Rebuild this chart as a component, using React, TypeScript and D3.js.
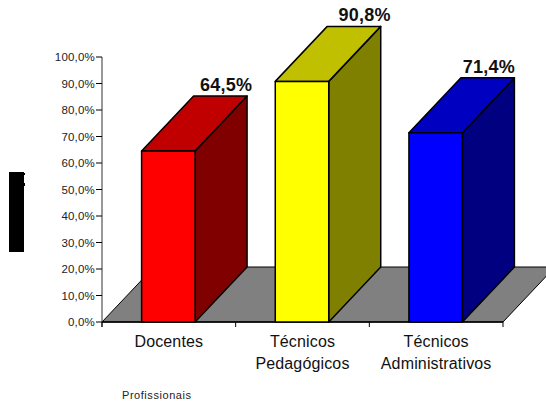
import React from "react";
import * as d3 from "d3";

const categories = ["Docentes", "Técnicos Pedagógicos", "Técnicos Administrativos"];
const values = [64.5, 90.8, 71.4];
const valueLabels = ["64,5%", "90,8%", "71,4%"];
const frontColors = ["#ff0000", "#ffff00", "#0000ff"];
const topColors = ["#c00000", "#c0c000", "#0000c0"];
const sideColors = ["#800000", "#808000", "#000080"];
const yTicks = [0, 10, 20, 30, 40, 50, 60, 70, 80, 90, 100];

const W = 546;
const H = 401;
const FONT = "'Liberation Sans', Arial, sans-serif";
const DEPTH_X = 52;
const DEPTH_Y = 55;
// horizontal shift of each value label from the right edge of its bar
const labelShift = [31, 36, 26.5];

const y = d3.scaleLinear().domain([0, 100]).range([322, 57]);
const x = d3.scaleBand<string>().domain(categories).range([101.5, 502.5]).paddingInner(0.6).paddingOuter(0.3);
const tickX = d3.scaleLinear().domain([0, 3]).range([102, 503]);

const pts = (p: [number, number][]) => p.map((q) => q.join(",")).join(" ");
const fmtTick = (v: number) => `${v.toFixed(1).replace(".", ",")}%`;

export default function App() {
  const base = y(0);
  return (
    <svg
      width={W}
      height={H}
      viewBox={`0 0 ${W} ${H}`}
      style={{ position: "absolute", left: 0, top: 0, fontFamily: FONT }}
    >
      {/* floor of the 3D plot */}
      <polygon
        points={pts([
          [tickX(0), base],
          [tickX(3), base],
          [tickX(3) + DEPTH_X, base - DEPTH_Y],
          [tickX(0) + DEPTH_X, base - DEPTH_Y],
        ])}
        fill="#808080"
        stroke="#000"
        strokeWidth={1}
      />

      {/* value axis */}
      <line x1={102} x2={102} y1={y(100)} y2={327} stroke="#333" strokeWidth={1} />
      {yTicks.map((t) => (
        <g key={t}>
          <line x1={96} x2={102} y1={y(t)} y2={y(t)} stroke="#000" />
          <text x={95} y={y(t) + 4} textAnchor="end" fontSize={11.5} letterSpacing={0.2} fill="#222">
            {fmtTick(t)}
          </text>
        </g>
      ))}

      {/* category axis */}
      <line x1={102} x2={503} y1={base} y2={base} stroke="#000" strokeWidth={1.5} />
      {d3.range(4).map((i) => (
        <line key={i} x1={tickX(i)} x2={tickX(i)} y1={base} y2={327} stroke="#000" />
      ))}

      {/* bars */}
      {categories.map((c, i) => {
        const x0 = x(c)!;
        const x1 = x0 + x.bandwidth();
        const top = y(values[i]);
        return (
          <g key={c} stroke="#000" strokeWidth={1.5} strokeLinejoin="round">
            <polygon
              points={pts([[x1, base], [x1 + DEPTH_X, base - DEPTH_Y], [x1 + DEPTH_X, top - DEPTH_Y], [x1, top]])}
              fill={sideColors[i]}
            />
            <polygon
              points={pts([[x0, top], [x1, top], [x1 + DEPTH_X, top - DEPTH_Y], [x0 + DEPTH_X, top - DEPTH_Y]])}
              fill={topColors[i]}
            />
            <rect x={x0} y={top} width={x1 - x0} height={base - top} fill={frontColors[i]} />
          </g>
        );
      })}

      {/* value labels */}
      {categories.map((c, i) => (
        <text
          key={c}
          x={x(c)! + x.bandwidth() + labelShift[i]}
          y={y(values[i]) - DEPTH_Y - 5}
          textAnchor="middle"
          fontSize={18}
          letterSpacing={0.25}
          fontWeight="bold"
          fill="#111"
        >
          {valueLabels[i]}
        </text>
      ))}

      {/* category labels */}
      {categories.map((c, i) => {
        const cx = (tickX(i) + tickX(i + 1)) / 2;
        const words = c.split(" ");
        return (
          <text key={c} textAnchor="middle" fontSize={16} letterSpacing={0.15} fill="#111">
            {words.map((w, k) => (
              <tspan key={w} x={cx} y={347 + k * 22}>
                {w}
              </tspan>
            ))}
          </text>
        );
      })}

      <text x={122} y={399} fontSize={11} letterSpacing={0.55} fill="#222">
        Profissionais
      </text>

      {/* solid block beside the value axis */}
      <g fill="#000">
        <rect x={9} y={172} width={15} height={80} />
        <rect x={24} y={173} width={1} height={2} />
        <rect x={24} y={183} width={1} height={3} />
      </g>
    </svg>
  );
}
